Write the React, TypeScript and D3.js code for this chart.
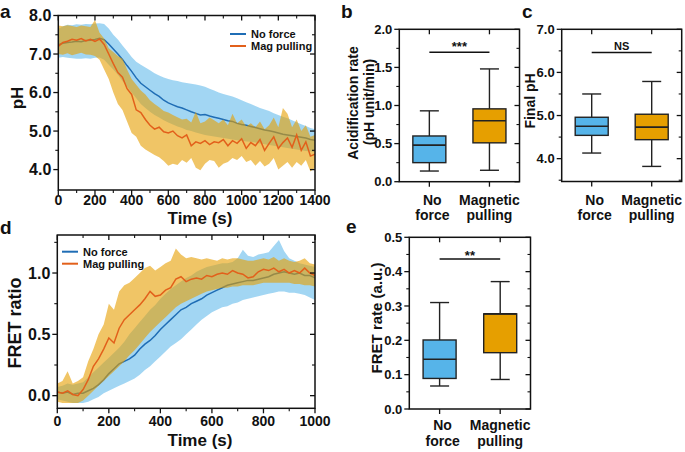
import React from "react";
import * as d3 from "d3";

// ---------------- data ----------------
// Panel a: pH vs time (s), sampled every 25 s
const timeA = d3.range(0, 1401, 25);
const noForceMeanA = [
  7.24, 7.28, 7.3, 7.31, 7.33, 7.32, 7.35, 7.36, 7.38, 7.41,
  7.37, 7.26, 7.13, 7.0, 6.86, 6.7, 6.55, 6.38, 6.24, 6.15,
  6.06, 5.97, 5.9, 5.8, 5.73, 5.68, 5.63, 5.6, 5.55, 5.5,
  5.46, 5.42, 5.43, 5.39, 5.36, 5.33, 5.3, 5.27, 5.25, 5.2,
  5.17, 5.15, 5.12, 5.09, 5.06, 5.03, 5.01, 4.98, 4.95, 4.92,
  4.9, 4.88, 4.86, 4.84, 4.82, 4.78, 4.76,
];
const noForceHiA = [
  7.65, 7.72, 7.76, 7.75, 7.77, 7.76, 7.78, 7.77, 7.79, 7.8,
  7.78, 7.66, 7.5, 7.38, 7.22, 7.08, 6.92, 6.8, 6.72, 6.65,
  6.58, 6.5, 6.44, 6.39, 6.35, 6.32, 6.3, 6.27, 6.25, 6.23,
  6.21, 6.18, 6.15, 6.1, 6.05, 6.0, 5.96, 5.93, 5.9, 5.85,
  5.8, 5.75, 5.7, 5.65, 5.6, 5.56, 5.52, 5.46, 5.42, 5.37,
  5.33, 5.28, 5.23, 5.18, 5.13, 5.08, 5.05,
];
const noForceLoA = [
  6.9, 6.92, 6.9, 6.89, 6.88, 6.88, 6.89, 6.88, 6.9, 6.91,
  6.85, 6.72, 6.6, 6.46, 6.3, 6.15, 6.0, 5.85, 5.7, 5.6,
  5.5, 5.42, 5.35, 5.28, 5.22, 5.17, 5.12, 5.08, 5.03, 5.0,
  4.96, 4.93, 4.9, 4.88, 4.86, 4.84, 4.82, 4.8, 4.78, 4.76,
  4.75, 4.73, 4.72, 4.7, 4.68, 4.66, 4.64, 4.62, 4.6, 4.58,
  4.56, 4.54, 4.52, 4.5, 4.48, 4.47, 4.45,
];
const magMeanA = [
  7.2, 7.3, 7.33, 7.38, 7.36, 7.4, 7.34, 7.38, 7.33, 7.39,
  7.25, 7.0, 6.75, 6.52, 6.4, 6.1, 5.95, 5.55, 5.48, 5.3,
  5.15, 5.05, 5.1, 4.98, 4.95, 5.0, 4.88, 4.82, 4.9, 4.62,
  4.72, 4.68, 4.75, 4.65, 4.72, 4.7, 4.78, 4.62, 4.75, 4.68,
  4.8, 4.55, 4.7, 4.62, 4.78, 4.5, 4.68, 4.85, 4.55, 4.7,
  4.82, 4.58, 4.9, 4.5, 4.72, 4.35, 4.4,
];
const magHiA = [
  7.74, 7.72, 7.75, 7.73, 7.7, 7.74, 7.72, 7.7, 7.88, 7.55,
  7.4, 7.15, 7.05, 6.95, 6.88, 6.6, 6.35, 6.2, 6.05, 5.95,
  5.8, 5.7, 5.62, 5.52, 5.48, 5.42, 5.36, 5.3, 5.32, 5.22,
  5.5, 5.2, 5.25, 5.35, 5.28, 5.2, 5.3, 5.15, 5.45, 5.2,
  5.3, 5.12, 5.2, 5.1, 5.25, 5.05, 5.15, 5.35, 5.1, 5.6,
  5.45, 5.1, 5.3, 5.0, 5.15, 4.85, 4.9,
];
const magLoA = [
  7.0, 6.98, 7.02, 6.97, 7.0, 7.03, 6.99, 6.98, 6.95, 6.85,
  6.6, 6.35, 6.0, 5.7, 5.55, 5.25, 4.95, 4.85, 4.62, 4.52,
  4.45, 4.38, 4.32, 4.22, 4.1, 4.15, 4.12, 4.25, 4.18, 4.3,
  4.05, 3.98, 4.15, 4.25, 4.22, 4.05, 4.15, 4.2, 4.3, 4.25,
  4.35, 4.2, 4.25, 4.1, 4.22, 4.08, 4.15, 4.3, 4.0, 4.1,
  4.2, 4.05, 4.2, 4.1, 4.25, 3.95, 4.05,
];
const pHTicks = [4, 5, 6, 7, 8];
const pHMinor = [4.5, 5.5, 6.5, 7.5];
const timeTicksA = [0, 200, 400, 600, 800, 1000, 1200, 1400];
const timeMinorA = [100, 300, 500, 700, 900, 1100, 1300];

// Panel d: FRET ratio vs time (s), sampled every 20 s
const timeD = d3.range(0, 1001, 20);
const noForceMeanD = [
  0.03, 0.02, 0.03, 0.01, 0.02, 0.02, 0.04, 0.06, 0.09, 0.13,
  0.18, 0.22, 0.26, 0.28, 0.3, 0.33, 0.38, 0.42, 0.45, 0.49,
  0.54, 0.58, 0.62, 0.66, 0.7, 0.72, 0.75, 0.77, 0.79, 0.82,
  0.84, 0.86, 0.88, 0.9, 0.91, 0.92, 0.93, 0.94, 0.94, 0.95,
  0.96, 0.97, 0.99, 1.0, 1.01, 1.0, 0.99, 1.0, 0.98, 0.98,
  0.96,
];
const noForceHiD = [
  0.07, 0.08, 0.1, 0.09, 0.1, 0.11, 0.15, 0.19, 0.23, 0.27,
  0.31, 0.35, 0.39, 0.44, 0.5, 0.55, 0.6, 0.65, 0.7, 0.74,
  0.79, 0.83, 0.87, 0.9, 0.93, 0.96, 0.98, 1.01, 1.03, 1.05,
  1.06, 1.07, 1.08, 1.08, 1.09, 1.12, 1.19, 1.14, 1.13, 1.15,
  1.16, 1.17, 1.22, 1.27, 1.18, 1.12, 1.1, 1.08, 1.07, 1.06,
  1.05,
];
const noForceLoD = [
  -0.03, -0.04, -0.05, -0.06, -0.06, -0.06, -0.05, -0.03, -0.01, 0.02,
  0.04, 0.06, 0.08, 0.1, 0.12, 0.14, 0.17, 0.21, 0.24, 0.28,
  0.32, 0.36, 0.4, 0.43, 0.46, 0.5, 0.54, 0.58, 0.62, 0.65,
  0.68, 0.7, 0.72, 0.73, 0.75, 0.76, 0.78, 0.79, 0.8, 0.81,
  0.82, 0.83, 0.84, 0.85, 0.85, 0.84, 0.84, 0.83, 0.82, 0.8,
  0.78,
];
const magMeanD = [
  0.03, 0.02, 0.04, 0.01, 0.0, 0.05, 0.13, 0.24, 0.3, 0.38,
  0.47, 0.43, 0.55, 0.62, 0.66, 0.7, 0.74, 0.79, 0.85, 0.81,
  0.82, 0.86, 0.88, 0.95, 0.97, 0.93, 0.95, 0.96, 0.95, 0.98,
  0.97, 0.99, 1.0, 0.99, 1.02, 1.0, 0.99, 0.96, 0.97, 1.01,
  1.03, 1.02, 1.04, 1.01, 1.03, 1.0, 1.02, 1.0, 1.04, 1.0,
  0.98,
];
const magHiD = [
  0.1, 0.12, 0.2, 0.1, 0.12, 0.15, 0.28, 0.38, 0.5, 0.58,
  0.75, 0.7, 0.85, 0.9, 0.92, 0.96, 1.0, 1.04, 1.06, 1.02,
  1.05, 1.08, 1.1, 1.2, 1.15, 1.12, 1.13, 1.12, 1.11, 1.12,
  1.11, 1.1, 1.12, 1.11, 1.12, 1.12, 1.11, 1.1, 1.1, 1.11,
  1.12, 1.11, 1.13, 1.1, 1.12, 1.1, 1.09, 1.1, 1.12, 1.08,
  1.07,
];
const magLoD = [
  -0.05, -0.06, -0.06, -0.06, -0.06, -0.04, 0.0, 0.04, 0.08, 0.12,
  0.16, 0.2, 0.24, 0.28, 0.33, 0.37, 0.42, 0.47, 0.52, 0.56,
  0.6, 0.64, 0.68, 0.72, 0.75, 0.77, 0.79, 0.81, 0.83, 0.85,
  0.86, 0.87, 0.88, 0.88, 0.89, 0.89, 0.9, 0.9, 0.9, 0.91,
  0.92, 0.92, 0.92, 0.92, 0.92, 0.92, 0.91, 0.91, 0.9, 0.9,
  0.89,
];
const fretTicks = [0, 0.5, 1.0];
const fretMinor = [0.25, 0.75, 1.25];
const timeTicksD = [0, 200, 400, 600, 800, 1000];
const timeMinorD = [100, 300, 500, 700, 900];

const legendLabels = ["No force", "Mag pulling"];

// Box plots: [whisker low, Q1, median, Q3, whisker high]
const boxCategories = ["No force", "Magnetic pulling"];
const boxCategoryLines = [["No", "force"], ["Magnetic", "pulling"]];
const acidNoForce = [0.14, 0.25, 0.48, 0.6, 0.93];
const acidMag = [0.15, 0.51, 0.8, 0.956, 1.48];
const acidTicks = [0, 0.5, 1.0, 1.5, 2.0];
const acidMinor = [0.25, 0.75, 1.25, 1.75];
const acidSig = 1.7;
const finalPHNoForce = [4.13, 4.54, 4.75, 4.96, 5.5];
const finalPHMag = [3.82, 4.44, 4.73, 5.03, 5.79];
const finalPHTicks = [4, 5, 6, 7];
const finalPHMinor = [3.5, 4.5, 5.5, 6.5];
const finalPHSig = 6.46;
const fretRateNoForce = [0.067, 0.089, 0.145, 0.201, 0.31];
const fretRateMag = [0.086, 0.164, 0.277, 0.277, 0.371];
const fretRateTicks = [0, 0.1, 0.2, 0.3, 0.4, 0.5];
const fretRateMinor = [0.05, 0.15, 0.25, 0.35, 0.45];
const fretRateSig = 0.437;
const sigLabels = ["***", "NS", "**"];

// ---------------- style ----------------
const FONT = "'Liberation Sans', Arial, Helvetica, sans-serif";
const BLUE_BAND = "#56B4E9";
const ORANGE_BAND = "#E69F00";
const BLUE_LINE = "#1f6db5";
const ORANGE_LINE = "#e2601b";
const BOX_BLUE = "#56B4E9";
const BOX_ORANGE = "#E69F00";
const INK = "#111";

type Lin = d3.ScaleLinear<number, number>;

function YAxis({ y, x0, x1, ticks, minor, fontSize, fmt }: any) {
  return (
    <g>
      {ticks.map((t: number) => (
        <g key={"M" + t}>
          <line x1={x0 - 5} x2={x0} y1={y(t)} y2={y(t)} stroke={INK} strokeWidth={1.3} />
          <line x1={x1} x2={x1 - 5} y1={y(t)} y2={y(t)} stroke={INK} strokeWidth={1.3} />
          <text x={x0 - 7} y={y(t)} dy="0.36em" textAnchor="end" fontSize={fontSize} fontWeight="bold" fill={INK}>
            {fmt(t)}
          </text>
        </g>
      ))}
      {minor.map((t: number) => (
        <g key={"m" + t}>
          <line x1={x0 - 3} x2={x0} y1={y(t)} y2={y(t)} stroke={INK} strokeWidth={1.1} />
          <line x1={x1} x2={x1 - 3} y1={y(t)} y2={y(t)} stroke={INK} strokeWidth={1.1} />
        </g>
      ))}
    </g>
  );
}

function XAxis({ x, y0, y1, ticks, minor, fontSize, labelY }: any) {
  return (
    <g>
      {ticks.map((t: number) => (
        <g key={"M" + t}>
          <line x1={x(t)} x2={x(t)} y1={y1} y2={y1 + 5} stroke={INK} strokeWidth={1.3} />
          <line x1={x(t)} x2={x(t)} y1={y0} y2={y0 + 5} stroke={INK} strokeWidth={1.3} />
          <text x={x(t)} y={labelY} textAnchor="middle" fontSize={fontSize} fontWeight="bold" fill={INK}>
            {t}
          </text>
        </g>
      ))}
      {minor.map((t: number) => (
        <g key={"m" + t}>
          <line x1={x(t)} x2={x(t)} y1={y1} y2={y1 + 3} stroke={INK} strokeWidth={1.1} />
          <line x1={x(t)} x2={x(t)} y1={y0} y2={y0 + 3} stroke={INK} strokeWidth={1.1} />
        </g>
      ))}
    </g>
  );
}

function TimeCourse(props: any) {
  const { id, left, right, top, bottom, xDomain, yDomain, time, blue, orange,
    xTicks, xMinor, yTicks, yMinor, tickLabelY, legendX, legendY, yFont } = props;
  const x = d3.scaleLinear().domain(xDomain).range([left, right]);
  const y = d3.scaleLinear().domain(yDomain).range([bottom, top]);
  const area = (lo: number[], hi: number[]) =>
    d3.area<number>()
      .x((_, i) => x(time[i]))
      .y0((_, i) => y(lo[i]))
      .y1((_, i) => y(hi[i]))(time);
  const line = (v: number[]) =>
    d3.line<number>()
      .x((_, i) => x(time[i]))
      .y((_, i) => y(v[i]))(time);
  return (
    <g>
      <defs>
        <clipPath id={id}>
          <rect x={left} y={top} width={right - left} height={bottom - top} />
        </clipPath>
      </defs>
      <g clipPath={`url(#${id})`}>
        <path d={area(blue.lo, blue.hi) || ""} fill={BLUE_BAND} fillOpacity={0.55} />
        <path d={line(blue.mean) || ""} fill="none" stroke={BLUE_LINE} strokeWidth={1.5} />
        <path d={area(orange.lo, orange.hi) || ""} fill={ORANGE_BAND} fillOpacity={0.6} />
        <path d={line(orange.mean) || ""} fill="none" stroke={ORANGE_LINE} strokeWidth={1.5} />
      </g>
      <rect x={left} y={top} width={right - left} height={bottom - top} fill="none" stroke={INK} strokeWidth={1.5} />
      <YAxis y={y} x0={left} x1={right} ticks={yTicks} minor={yMinor} fontSize={yFont} fmt={d3.format(".1f")} />
      <XAxis x={x} y0={top} y1={bottom} ticks={xTicks} minor={xMinor} fontSize={14} labelY={tickLabelY} />
      {legendLabels.map((lab, i) => (
        <g key={lab}>
          <line x1={legendX} x2={legendX + 16} y1={legendY + i * 12} y2={legendY + i * 12}
            stroke={i === 0 ? BLUE_LINE : ORANGE_LINE} strokeWidth={2} />
          <text x={legendX + 21} y={legendY + i * 12} dy="0.35em" fontSize={11} fontWeight="bold" fill={INK}>
            {lab}
          </text>
        </g>
      ))}
    </g>
  );
}

function Box({ cx, y, stats, color }: { cx: number; y: Lin; stats: number[]; color: string }) {
  const [lo, q1, med, q3, hi] = stats;
  const w = 33;
  const cap = 19;
  return (
    <g stroke="#222" strokeWidth={1.4}>
      <line x1={cx} x2={cx} y1={y(hi)} y2={y(q3)} />
      <line x1={cx} x2={cx} y1={y(q1)} y2={y(lo)} />
      <line x1={cx - cap / 2} x2={cx + cap / 2} y1={y(hi)} y2={y(hi)} />
      <line x1={cx - cap / 2} x2={cx + cap / 2} y1={y(lo)} y2={y(lo)} />
      <rect x={cx - w / 2} y={y(q3)} width={w} height={y(q1) - y(q3)} fill={color} />
      <line x1={cx - w / 2} x2={cx + w / 2} y1={y(med)} y2={y(med)} strokeWidth={1.6} />
    </g>
  );
}

function BoxPanel(props: any) {
  const { left, right, top, bottom, yDomain, ticks, minor, data, sig, sigLabel, sigFont, sigDy,
    catY1, catY2 } = props;
  const x = d3.scalePoint<string>().domain(boxCategories).range([left, right]).padding(0.5);
  const y = d3.scaleLinear().domain(yDomain).range([bottom, top]);
  const colors = [BOX_BLUE, BOX_ORANGE];
  const c0 = x(boxCategories[0])!;
  const c1 = x(boxCategories[1])!;
  return (
    <g>
      <rect x={left} y={top} width={right - left} height={bottom - top} fill="none" stroke={INK} strokeWidth={1.5} />
      <YAxis y={y} x0={left} x1={right} ticks={ticks} minor={minor} fontSize={13} fmt={d3.format(".1f")} />
      {boxCategories.map((c, i) => (
        <g key={c}>
          <line x1={x(c)} x2={x(c)} y1={bottom} y2={bottom + 5} stroke={INK} strokeWidth={1.3} />
          <line x1={x(c)} x2={x(c)} y1={top} y2={top + 5} stroke={INK} strokeWidth={1.3} />
          <Box cx={x(c)!} y={y} stats={data[i]} color={colors[i]} />
          <text x={x(c)! + (i === 0 ? 3 : 0)} y={catY1} textAnchor="middle" fontSize={14} fontWeight="bold" fill={INK}>
            {boxCategoryLines[i][0]}
          </text>
          <text x={x(c)! + (i === 0 ? 3 : 0)} y={catY2} textAnchor="middle" fontSize={14} fontWeight="bold" fill={INK}>
            {boxCategoryLines[i][1]}
          </text>
        </g>
      ))}
      <line x1={c0} x2={c1} y1={y(sig)} y2={y(sig)} stroke={INK} strokeWidth={1.5} />
      <text x={(c0 + c1) / 2} y={y(sig) + sigDy} textAnchor="middle" fontSize={sigFont} fontWeight="bold" fill={INK}>
        {sigLabel}
      </text>
    </g>
  );
}

function RotLabel({ x, y, size, children }: any) {
  return (
    <text transform={`translate(${x},${y}) rotate(-90)`} textAnchor="middle" dy="0.33em"
      fontSize={size} fontWeight="bold" fill={INK}>
      {children}
    </text>
  );
}

function PanelLetter({ x, y, children }: any) {
  return (
    <text x={x} y={y} fontSize={19} fontWeight="bold" fill={INK}>
      {children}
    </text>
  );
}

export default function App() {
  return (
    <svg width={685} height={452} viewBox="0 0 685 452"
      style={{ position: "absolute", left: 0, top: 0, background: "#fff" }}
      fontFamily={FONT}>
      <rect width={685} height={452} fill="#fff" />

      {/* Panel a */}
      <TimeCourse id="clipA" left={58.3} right={315} top={15.5} bottom={190}
        xDomain={[0, 1400]} yDomain={[3.47, 8.0]} time={timeA}
        blue={{ mean: noForceMeanA, lo: noForceLoA, hi: noForceHiA }}
        orange={{ mean: magMeanA, lo: magLoA, hi: magHiA }}
        xTicks={timeTicksA} xMinor={timeMinorA} yTicks={pHTicks} yMinor={pHMinor}
        tickLabelY={204.5} legendX={230} legendY={34} yFont={16} />
      <RotLabel x={17} y={98} size={17}>pH</RotLabel>
      <text x={200} y={224} textAnchor="middle" fontSize={17} fontWeight="bold" fill={INK}>Time (s)</text>
      <PanelLetter x={0} y={17.5}>a</PanelLetter>

      {/* Panel d */}
      <TimeCourse id="clipD" left={57.3} right={315} top={235} bottom={408.3}
        xDomain={[0, 1000]} yDomain={[-0.103, 1.31]} time={timeD}
        blue={{ mean: noForceMeanD, lo: noForceLoD, hi: noForceHiD }}
        orange={{ mean: magMeanD, lo: magLoD, hi: magHiD }}
        xTicks={timeTicksD} xMinor={timeMinorD} yTicks={fretTicks} yMinor={fretMinor}
        tickLabelY={426} legendX={62} legendY={251.7} yFont={16} />
      <RotLabel x={15} y={323} size={18}>FRET ratio</RotLabel>
      <text x={200} y={446} textAnchor="middle" fontSize={17} fontWeight="bold" fill={INK}>Time (s)</text>
      <PanelLetter x={0} y={234}>d</PanelLetter>

      {/* Panel b */}
      <BoxPanel left={399.3} right={519.5} top={29.3} bottom={181.7} yDomain={[0, 2]}
        ticks={acidTicks} minor={acidMinor} data={[acidNoForce, acidMag]}
        sig={acidSig} sigLabel={sigLabels[0]} sigFont={13} sigDy={-1} catY1={205} catY2={220} />
      <RotLabel x={353.5} y={103} size={14}>Acidification rate</RotLabel>
      <RotLabel x={369.5} y={102} size={14}>(pH unit/min)</RotLabel>
      <PanelLetter x={341} y={17.5}>b</PanelLetter>

      {/* Panel c */}
      <BoxPanel left={561.7} right={681.7} top={29.3} bottom={181.5} yDomain={[3.47, 7.0]}
        ticks={finalPHTicks} minor={finalPHMinor} data={[finalPHNoForce, finalPHMag]}
        sig={finalPHSig} sigLabel={sigLabels[1]} sigFont={11} sigDy={-3} catY1={205} catY2={220} />
      <RotLabel x={530.5} y={101} size={14}>Final pH</RotLabel>
      <PanelLetter x={522} y={17.5}>c</PanelLetter>

      {/* Panel e */}
      <BoxPanel left={409.3} right={530.5} top={237.3} bottom={409} yDomain={[0, 0.5]}
        ticks={fretRateTicks} minor={fretRateMinor} data={[fretRateNoForce, fretRateMag]}
        sig={fretRateSig} sigLabel={sigLabels[2]} sigFont={13} sigDy={1} catY1={430} catY2={446} />
      <RotLabel x={377} y={318} size={15}>FRET rate (a.u.)</RotLabel>
      <PanelLetter x={346} y={233}>e</PanelLetter>
    </svg>
  );
}
